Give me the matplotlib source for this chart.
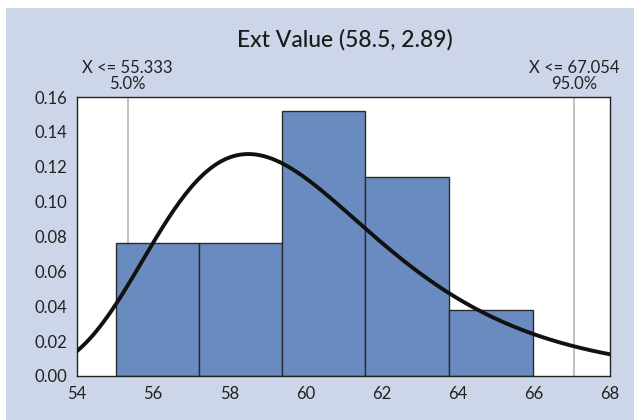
import numpy as np
import matplotlib
matplotlib.use("Agg")
import matplotlib.pyplot as plt
from matplotlib.patches import Rectangle

# Fitted extreme value (Gumbel, max) parameters
loc = 58.5
scale = 2.89

# Histogram bins (left edges, widths) and densities
bin_edges = [55.02, 57.20, 59.39, 61.57, 63.76, 65.97]
densities = [0.076, 0.076, 0.152, 0.114, 0.038]

# Percentile markers
pct_values = [55.333, 67.054]
pct_labels = ["5.0%", "95.0%"]

x_ticks = [54, 56, 58, 60, 62, 64, 66, 68]
y_ticks = [0.00, 0.02, 0.04, 0.06, 0.08, 0.10, 0.12, 0.14, 0.16]

title = "Ext Value (58.5, 2.89)"

panel_color = "#cdd6e8"
bar_color = "#6a8bbf"

plt.rcParams["font.family"] = ["Lato", "DejaVu Sans"]

fig = plt.figure(figsize=(6.34, 4.20), dpi=100)
fig.patch.set_facecolor("white")
fig.patches.append(Rectangle((6 / 634, 0), 1, 1 - 8 / 420, transform=fig.transFigure,
                             facecolor=panel_color, edgecolor="none", zorder=-10))

ax = fig.add_axes([77 / 634, 1 - 376 / 420, (610 - 77) / 634, (376 - 97) / 420])
ax.set_facecolor("white")

lefts = np.array(bin_edges[:-1])
widths = np.diff(bin_edges)
ax.bar(lefts, densities, width=widths, align="edge", color=bar_color,
       edgecolor="#2b2b2b", linewidth=1.0, zorder=2)

for v in pct_values:
    ax.axvline(v, color="#b5b5b5", linewidth=1.2, zorder=1)

xs = np.linspace(54, 68, 400)
z = (xs - loc) / scale
pdf = np.exp(-(z + np.exp(-z))) / scale
ax.plot(xs, pdf, color="#111111", linewidth=2.8, solid_capstyle="round", zorder=3)

ax.set_xlim(54, 68)
ax.set_ylim(0, 0.16)
ax.set_xticks(x_ticks)
ax.set_yticks(y_ticks)
ax.set_xticklabels([str(t) for t in x_ticks])
ax.set_yticklabels([f"{t:.2f}" for t in y_ticks])
ax.tick_params(axis="both", length=0, labelsize=12, colors="#222222", pad=7)

for sp in ax.spines.values():
    sp.set_color("#222222")
    sp.set_linewidth(1.0)

fig.text(345 / 634, 1 - 40 / 420, title, ha="center", va="center", fontsize=16.5,
         fontweight="medium", color="#1a1a1a")

for v, lab in zip(pct_values, pct_labels):
    xf = ax.transData.transform((v, 0))[0] / fig.bbox.width
    fig.text(xf, 1 - 68 / 420, f"X <= {v:.3f}", ha="center", va="center", fontsize=12, color="#222222")
    fig.text(xf, 1 - 84 / 420, lab, ha="center", va="center", fontsize=12, color="#222222")

fig.savefig("out.png", dpi=100, facecolor=fig.get_facecolor())
